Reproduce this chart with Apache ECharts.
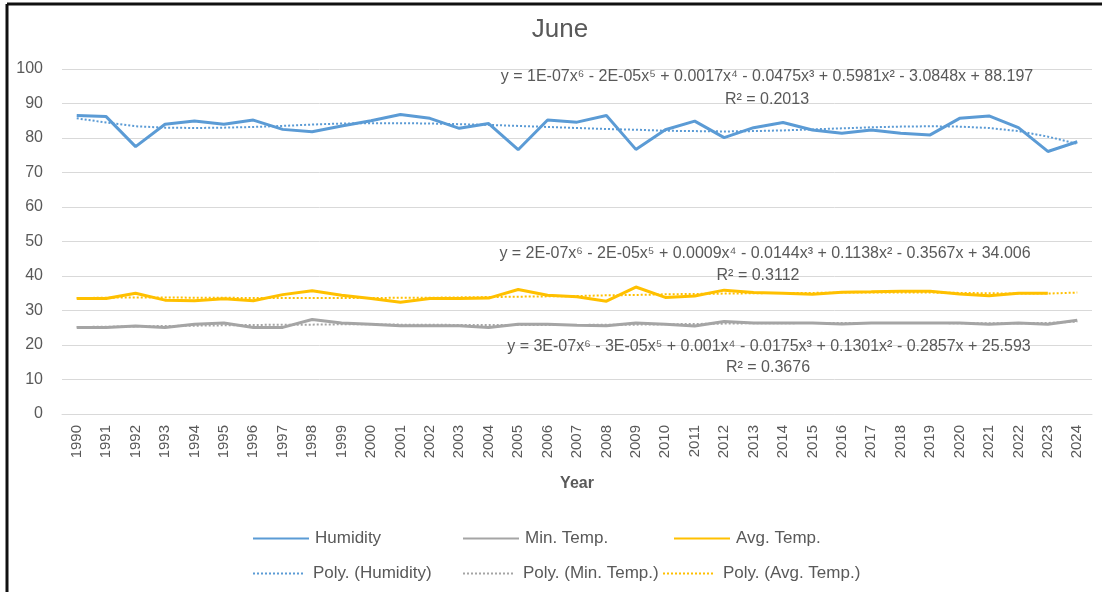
<!DOCTYPE html>
<html lang="en">

<head>
    <meta charset="UTF-8">
    <meta name="viewport" content="width=device-width, initial-scale=1.0">
    <title>June</title>
    <style>
        html,
        body {
            margin: 0;
            padding: 0;
            height: 100%;
            width: 100%;
            background-color: #fff;
        }

        #chart {
            width: 1102px;
            height: 592px;
        }
    </style>
</head>

<body>
    <div id="chart"></div>
    <script src="https://cdn.jsdelivr.net/npm/echarts@6/dist/echarts.min.js"></script>
    <script type="text/javascript">

        const years = ['1990', '1991', '1992', '1993', '1994', '1995', '1996', '1997', '1998', '1999',
            '2000', '2001', '2002', '2003', '2004', '2005', '2006', '2007', '2008', '2009',
            '2010', '2011', '2012', '2013', '2014', '2015', '2016', '2017', '2018', '2019',
            '2020', '2021', '2022', '2023', '2024']

        const humidity = [86.5, 86.2, 77.5, 84.0, 84.9, 84.0, 85.2, 82.5, 81.8, 83.5,
            85.0, 86.8, 85.7, 82.8, 84.2, 76.6, 85.2, 84.6, 86.5, 76.7,
            82.4, 84.9, 80.1, 83.0, 84.5, 82.3, 81.4, 82.3, 81.4, 80.9,
            85.7, 86.4, 83.0, 76.1, 78.9]

        const minTemp = [25.1, 25.1, 25.5, 25.1, 26.0, 26.4, 25.1, 25.1, 27.4, 26.4,
            26.0, 25.6, 25.6, 25.6, 25.1, 26.0, 26.0, 25.7, 25.6, 26.4,
            26.0, 25.5, 26.8, 26.4, 26.4, 26.4, 26.1, 26.4, 26.4, 26.4,
            26.4, 26.0, 26.4, 26.0, 27.2]

        const avgTemp = [33.5, 33.5, 35.0, 33.0, 32.8, 33.4, 32.8, 34.6, 35.7, 34.4,
            33.5, 32.4, 33.5, 33.5, 33.6, 36.1, 34.4, 34.0, 32.7, 36.8,
            33.8, 34.2, 35.9, 35.2, 35.0, 34.7, 35.3, 35.4, 35.6, 35.6,
            34.8, 34.3, 35.0, 35.0, null]

        // trendlines
        const humidityTrend = [85.7, 84.5, 83.4, 83.0, 82.9, 83.0, 83.2, 83.5, 83.9, 84.2,
            84.3, 84.3, 84.2, 84.0, 83.8, 83.5, 83.2, 82.9, 82.6, 82.4,
            82.1, 82.0, 81.9, 82.0, 82.2, 82.5, 82.8, 83.1, 83.3, 83.4,
            83.3, 82.9, 82.0, 80.4, 78.3]

        const minTempTrend = [25.2, 25.3, 25.4, 25.5, 25.6, 25.7, 25.8, 25.9, 25.9, 26.0,
            26.0, 25.9, 25.9, 25.8, 25.8, 25.8, 25.8, 25.8, 25.9, 25.9,
            26.0, 26.1, 26.2, 26.3, 26.3, 26.4, 26.4, 26.4, 26.4, 26.4,
            26.3, 26.3, 26.3, 26.4, 26.8]

        const avgTempTrend = [33.6, 33.7, 33.8, 33.8, 33.7, 33.7, 33.6, 33.6, 33.6, 33.6,
            33.6, 33.7, 33.7, 33.8, 33.9, 34.0, 34.1, 34.2, 34.4, 34.5,
            34.7, 34.8, 34.9, 35.0, 35.1, 35.1, 35.2, 35.2, 35.2, 35.2,
            35.1, 35.0, 34.9, 34.9, 35.2]

        const equations = [
            'y = 1E-07x⁶ - 2E-05x⁵ + 0.0017x⁴ - 0.0475x³ + 0.5981x² - 3.0848x + 88.197',
            'y = 2E-07x⁶ - 2E-05x⁵ + 0.0009x⁴ - 0.0144x³ + 0.1138x² - 0.3567x + 34.006',
            'y = 3E-07x⁶ - 3E-05x⁵ + 0.001x⁴ - 0.0175x³ + 0.1301x² - 0.2857x + 25.593'
        ]
        const rSquared = ['R² = 0.2013', 'R² = 0.3112', 'R² = 0.3676']

        const textColor = '#595959'
        const font = "'Liberation Sans', Arial, sans-serif"

        function lineSeries(name, data, color) {
            return {
                name: name,
                type: 'line',
                data: data,
                symbol: 'none',
                z: 2,
                lineStyle: { color: color, width: 3 },
                itemStyle: { color: color }
            }
        }

        function trendSeries(name, data, color) {
            return {
                name: name,
                type: 'line',
                data: data,
                symbol: 'none',
                z: 3,
                lineStyle: { color: color, width: 2, type: [2, 2] },
                itemStyle: { color: color }
            }
        }

        function legendItem(name, left, top, iconWidth, dotted) {
            return {
                data: [name],
                left: left,
                top: top,
                itemWidth: iconWidth,
                itemHeight: 3,
                itemGap: 0,
                padding: 0,
                selectedMode: false,
                itemStyle: { opacity: 0 },
                textStyle: { color: textColor, fontSize: 17, fontFamily: font, padding: [0, 0, 0, dotted ? 5 : 1] }
            }
        }

        function label(text, x, y) {
            return {
                type: 'text',
                x: x,
                y: y,
                z: 10,
                style: {
                    text: text,
                    fill: textColor,
                    fontSize: 16,
                    fontFamily: font,
                    align: 'center',
                    verticalAlign: 'middle'
                }
            }
        }

        const chart = echarts.init(document.getElementById('chart'))

        chart.setOption({
            animation: false,
            backgroundColor: '#fff',
            title: {
                text: 'June',
                left: 555,
                top: 12,
                textAlign: 'center',
                textStyle: { color: textColor, fontSize: 26, fontWeight: 'normal', fontFamily: font }
            },
            grid: {
                left: 62,
                right: 10,
                top: 69,
                bottom: 178,
                outerBoundsMode: 'none'
            },
            legend: [
                legendItem('Humidity', 252, 530, 56, false),
                legendItem('Min. Temp.', 462, 530, 56, false),
                legendItem('Avg. Temp.', 673, 530, 56, false),
                legendItem('Poly. (Humidity)', 252, 565, 50, true),
                legendItem('Poly. (Min. Temp.)', 462, 565, 50, true),
                legendItem('Poly. (Avg. Temp.)', 662, 565, 50, true)
            ],
            xAxis: {
                type: 'category',
                data: years,
                boundaryGap: true,
                name: 'Year',
                nameLocation: 'middle',
                nameGap: 62,
                nameTextStyle: { color: textColor, fontSize: 16, fontWeight: 'bold', fontFamily: font },
                axisLine: { show: true, lineStyle: { color: '#D9D9D9', width: 1 } },
                axisTick: { show: false },
                axisLabel: {
                    rotate: 90,
                    interval: 0,
                    margin: 11,
                    color: textColor,
                    fontSize: 15,
                    fontFamily: font
                }
            },
            yAxis: {
                type: 'value',
                min: 0,
                max: 100,
                interval: 10,
                axisLine: { show: false },
                axisTick: { show: false },
                splitLine: { lineStyle: { color: '#D9D9D9', width: 1 } },
                axisLabel: { color: textColor, fontSize: 16, fontFamily: font, margin: 19 }
            },
            series: [
                lineSeries('Humidity', humidity, '#5B9BD5'),
                lineSeries('Min. Temp.', minTemp, '#A5A5A5'),
                lineSeries('Avg. Temp.', avgTemp, '#FFC000'),
                trendSeries('Poly. (Humidity)', humidityTrend, '#5B9BD5'),
                trendSeries('Poly. (Min. Temp.)', minTempTrend, '#A5A5A5'),
                trendSeries('Poly. (Avg. Temp.)', avgTempTrend, '#FFC000')
            ],
            graphic: [
                label(equations[0], 767, 77),
                label(rSquared[0], 767, 100),
                label(equations[1], 765, 254),
                label(rSquared[1], 758, 276),
                label(equations[2], 769, 347),
                label(rSquared[2], 768, 368),
                // frame edges seen at the top and left of the picture
                { type: 'line', z: 20, shape: { x1: 7, y1: 4, x2: 1102, y2: 4 }, style: { stroke: '#111', lineWidth: 3 } },
                { type: 'line', z: 20, shape: { x1: 7, y1: 4, x2: 7, y2: 592 }, style: { stroke: '#111', lineWidth: 3 } }
            ]
        })

    </script>
</body>

</html>
